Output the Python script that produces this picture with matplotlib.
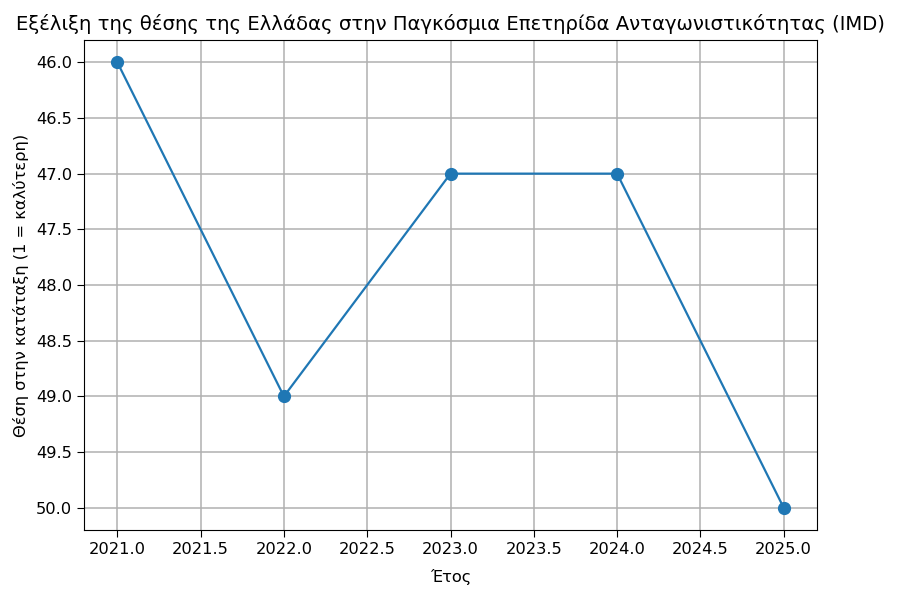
import matplotlib
matplotlib.use("Agg")
import matplotlib.pyplot as plt

# Θέση της Ελλάδας ανά έτος (IMD)
years = [2021, 2022, 2023, 2024, 2025]
ranks = [46, 49, 47, 47, 50]

plt.rcParams["font.size"] = 12

fig, ax = plt.subplots(figsize=(9, 6), dpi=100)
fig.subplots_adjust(left=84 / 900, right=817 / 900, top=1 - 40 / 600, bottom=1 - 530 / 600)
ax.plot(years, ranks, marker="o", markersize=8.5, linewidth=1.6)
ax.invert_yaxis()
ax.set_title("Εξέλιξη της θέσης της Ελλάδας στην Παγκόσμια Επετηρίδα Ανταγωνιστικότητας (IMD)",
             fontsize=14.1, pad=7)
ax.set_xlabel("Έτος", fontsize=11.7, labelpad=9)
ax.set_ylabel("Θέση στην κατάταξη (1 = καλύτερη)", fontsize=11.7, labelpad=5)
ax.tick_params(labelsize=11.7, length=5)
ax.grid(True, linewidth=1.1)
fig.savefig("out.png")
